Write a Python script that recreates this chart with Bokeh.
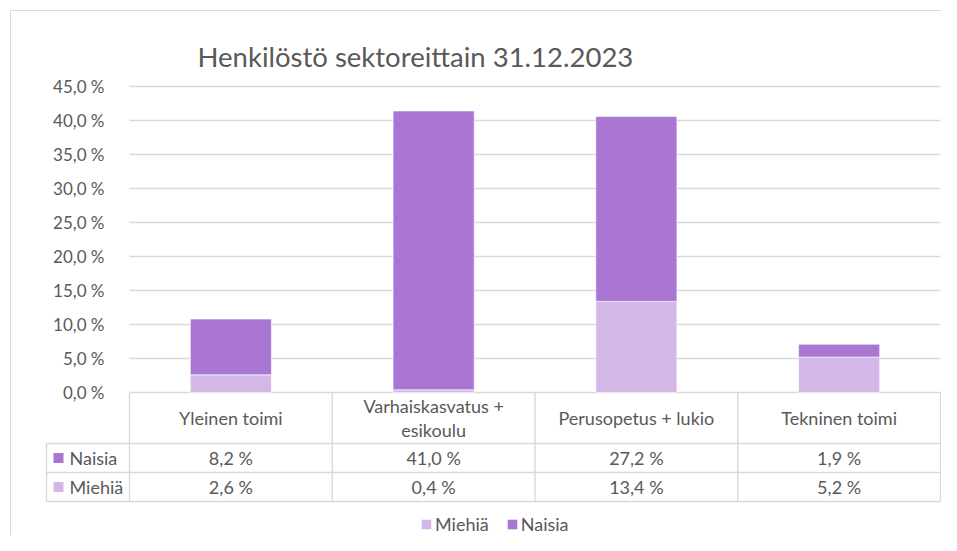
from bokeh.plotting import figure
from bokeh.models import ColumnDataSource, Range1d, FixedTicker, Legend, LegendItem
from bokeh.layouts import column
from bokeh.embed import file_html
from bokeh.resources import INLINE
from bokeh.core.properties import value

# ---------------- data ----------------
title_text = "Henkilöstö sektoreittain 31.12.2023"
categories = ["Yleinen toimi", "Varhaiskasvatus + esikoulu", "Perusopetus + lukio", "Tekninen toimi"]
header_labels = ["Yleinen toimi", "Varhaiskasvatus +\nesikoulu", "Perusopetus + lukio", "Tekninen toimi"]
series_names = ["Miehiä", "Naisia"]
miehia = [2.6, 0.4, 13.4, 5.2]
naisia = [8.2, 41.0, 27.2, 1.9]
y_ticks = [0, 5, 10, 15, 20, 25, 30, 35, 40, 45]

# ---------------- style ----------------
FONT = "Lato"
FS_TICK = "17px"
FS = "18px"
TEXT = "#595959"
GRID = "#D9D9D9"
C_NAISIA = "#A976D4"
C_MIEHIA = "#D3B8E7"


def fmt(v):
    return f"{v:.1f} %".replace(".", ",")


# geometry (figure placed at x=11, y=11 inside a bordered box)
OX, OY = 11, 11
W, H = 930, 524
FR_L, FR_R, FR_T, FR_B = 40, OX + W, 74, OY + H   # frame edges
CAT_L, CAT_R, ZERO_Y, TOP45 = 129, 940, 392, 86
UNIT = (CAT_R - CAT_L) / len(categories)          # px per category
PX_PER_PCT = (ZERO_Y - TOP45) / 45.0


def ux(px):
    return (px - CAT_L) / UNIT


n = len(categories)
xc = [i + 0.5 for i in range(n)]
src = ColumnDataSource(data={"x": xc, "cat": categories, "Miehiä": miehia, "Naisia": naisia})

p = figure(x_range=Range1d(ux(FR_L), ux(FR_R)),
           y_range=Range1d(-(FR_B - ZERO_Y) / PX_PER_PCT, (ZERO_Y - FR_T) / PX_PER_PCT),
           width=W, height=H,
           min_border_left=FR_L - OX, min_border_right=OX + W - FR_R,
           min_border_top=FR_T - OY, min_border_bottom=0,
           x_axis_location=None, output_backend="svg", toolbar_location=None)
p.extra_y_ranges = {"tbl": Range1d(FR_B - ZERO_Y, FR_T - ZERO_Y)}
p.grid.grid_line_color = None
p.outline_line_color = None

# gridlines over the category area only
p.segment(x0=[0] * len(y_ticks), x1=[n] * len(y_ticks), y0=y_ticks, y1=y_ticks,
          line_color=GRID, line_width=1.3)

p.vbar_stack(series_names, x="x", width=0.4, source=src,
             fill_color=[C_MIEHIA, C_NAISIA], line_color="white", line_width=0.6)

# y axis placed at the start of the category area
p.yaxis.fixed_location = 0
p.yaxis.ticker = FixedTicker(ticks=y_ticks)
p.yaxis.major_label_overrides = {t: fmt(t) for t in y_ticks}
p.yaxis.axis_line_color = None
p.yaxis.major_tick_line_color = None
p.yaxis.minor_tick_line_color = None
p.yaxis.major_label_standoff = 19
p.yaxis.major_label_text_font = FONT
p.yaxis.major_label_text_font_size = FS_TICK
p.yaxis.major_label_text_color = TEXT

p.title.text = title_text
p.title.align = "left"
p.title.offset = 197 - FR_L
p.title.standoff = 4
p.title.text_font = FONT
p.title.text_font_size = "27.5px"
p.title.text_font_style = "normal"
p.title.text_color = TEXT

# ---------------- data table ----------------
xl = ux(46)
row_h, row_n, row_end = 51, 80, 109
x0 = [xl, xl, xl] + list(range(n + 1)) + [xl]
x1 = [n, n, n] + list(range(n + 1)) + [xl]
y0 = [row_h, row_n, row_end] + [0] * (n + 1) + [row_h]
y1 = [row_h, row_n, row_end] + [row_end] * (n + 1) + [row_end]
p.segment(x0=x0, y0=y0, x1=x1, y1=y1, line_color=GRID, line_width=1.4, y_range_name="tbl")

txt = dict(text_font=value(FONT), text_font_size=FS, text_color=TEXT,
           text_baseline="middle", y_range_name="tbl")
p.text(x=xc, y=[row_h / 2] * n, text=header_labels, text_align="center",
       text_line_height=1.07, **txt)
yn = (row_h + row_n) / 2
ym = (row_n + row_end) / 2
p.text(x=xc, y=[yn] * n, text=[fmt(v) for v in naisia], text_align="center", **txt)
p.text(x=xc, y=[ym] * n, text=[fmt(v) for v in miehia], text_align="center", **txt)

r_n = p.rect(x=[ux(58)], y=[yn], width=10, height=10, width_units="screen", height_units="screen",
             fill_color=C_NAISIA, line_color=None, y_range_name="tbl")
r_m = p.rect(x=[ux(58)], y=[ym], width=10, height=10, width_units="screen", height_units="screen",
             fill_color=C_MIEHIA, line_color=None, y_range_name="tbl")
p.text(x=[ux(69)] * 2, y=[yn, ym], text=[series_names[1], series_names[0]],
       text_align="left", **txt)

# ---------------- legend ----------------
legend = Legend(items=[LegendItem(label=series_names[0], renderers=[r_m]),
                       LegendItem(label=series_names[1], renderers=[r_n])],
                orientation="horizontal", location=(420 - FR_L, 0),
                glyph_width=12, glyph_height=12, label_height=20, label_standoff=3, spacing=17,
                padding=0, margin=0, border_line_color=None, background_fill_alpha=0,
                label_text_font=FONT, label_text_font_size=FS, label_text_color=TEXT)
p.add_layout(legend)

layout = column(p, margin=(10, 0, 0, 10),
                styles={"border-left": "1px solid #D9D9D9", "border-top": "1px solid #D9D9D9"})

open("out.html", "w").write(file_html(layout, INLINE, "Henkilöstö sektoreittain"))
